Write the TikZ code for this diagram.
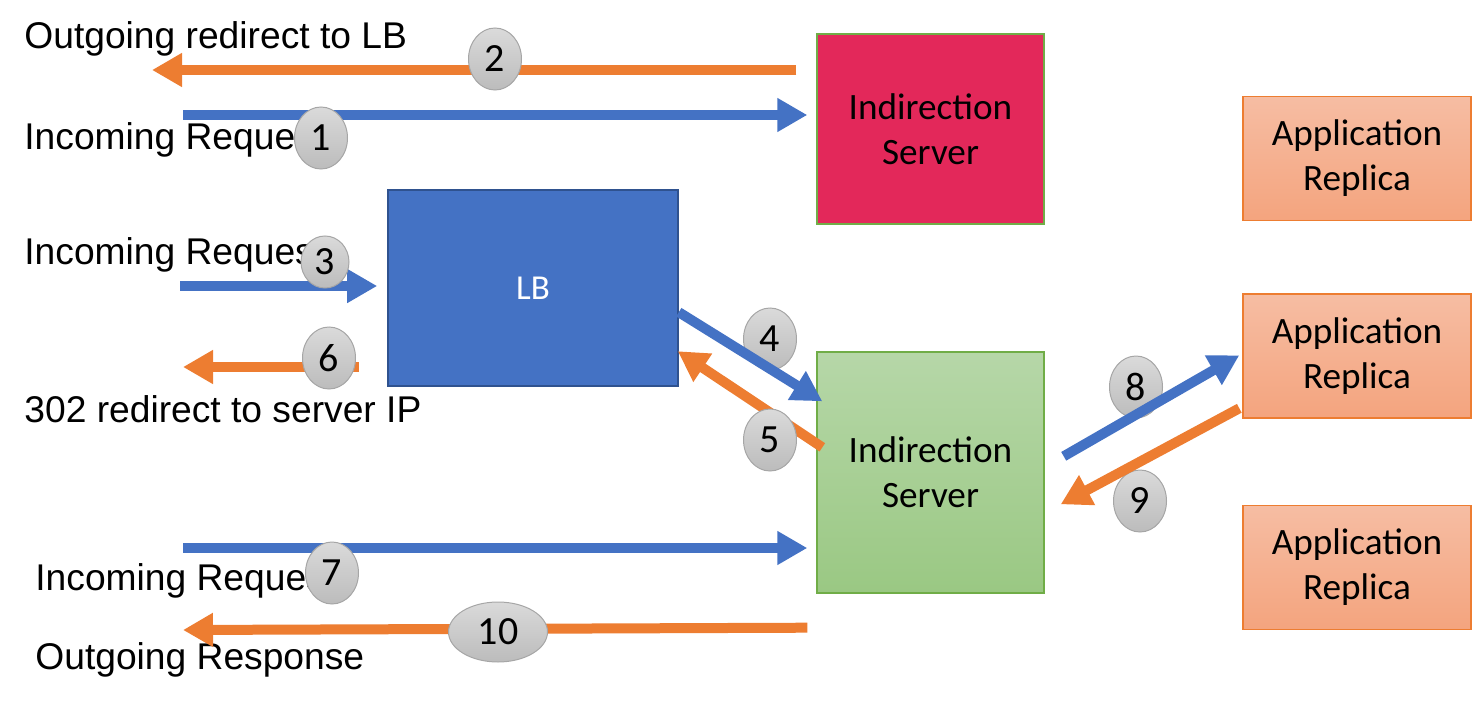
\documentclass[tikz,border=0pt]{standalone}
\usepackage{fontspec}
\setmainfont{Liberation Sans}
\newfontfamily\boxfont{Carlito}
\usetikzlibrary{shapes.geometric,arrows.meta,calc}
\definecolor{flowblue}{HTML}{4472C4}
\definecolor{floworange}{HTML}{ED7D31}
\definecolor{lbedge}{HTML}{2F528F}
\definecolor{crimsonfill}{HTML}{E3285A}
\definecolor{srvgreen}{HTML}{70AD47}
\definecolor{srvtop}{HTML}{B6D7A8}
\definecolor{srvbot}{HTML}{9AC883}
\definecolor{reptop}{HTML}{F6BDA3}
\definecolor{repbot}{HTML}{F4A47E}
\definecolor{badgetop}{HTML}{DADADA}
\definecolor{badgebot}{HTML}{BCBCBC}
\definecolor{badgeedge}{HTML}{A6A6A6}
\tikzset{
lbl/.style={anchor=base west,inner sep=0pt,font=\fontsize{18.6bp}{22.5bp}\selectfont},
srvbox/.style={draw=srvgreen,line width=0.7pt,minimum width=113.5bp,inner sep=0pt,align=center,font=\boxfont\fontsize{18.6bp}{22.5bp}\selectfont},
indA/.style={srvbox,fill=crimsonfill,minimum height=95bp},
indB/.style={srvbox,top color=srvtop,bottom color=srvbot,minimum height=120.5bp},
replica/.style={draw=floworange,line width=0.7pt,top color=reptop,bottom color=repbot,minimum width=114bp,minimum height=62bp,inner sep=0pt,align=center,font=\boxfont\fontsize{18.6bp}{22.5bp}\selectfont},
lbbox/.style={draw=lbedge,line width=0.8pt,fill=flowblue,minimum width=145bp,minimum height=98bp,inner sep=0pt,text=white,font=\boxfont\fontsize{17.5bp}{21bp}\selectfont},
badge/.style={ellipse,draw=badgeedge,line width=0.5pt,top color=badgetop,bottom color=badgebot,minimum width=26.5bp,minimum height=31bp,inner sep=0pt,font=\boxfont\fontsize{20bp}{22bp}\selectfont},
reqarrow/.style={-{Triangle[length=15bp,width=16bp]},line width=5bp,flowblue},
resarrow/.style={-{Triangle[length=15bp,width=16bp]},line width=5bp,floworange}
}
\begin{document}
\begin{tikzpicture}[x=0.5bp,y=-0.5bp]
\useasboundingbox (0,0) rectangle (1473,701);
\node[lbl] (tout1) at (24,49) {Outgoing redirect to LB};
\node[lbl] (tin1) at (24,149) {Incoming Request};
\node[lbl] (tin2) at (24,264) {Incoming Request};
\node[lbl] (tred) at (24,422) {302 redirect to server IP};
\node[lbl] (tin3) at (35,590) {Incoming Request};
\node[lbl] (tout3) at (35,669) {Outgoing Response};
\node[indA] (ind1) at (930.5,129) {Indirection\\Server};
\node[lbbox] (lb) at (533,288) {LB};
\node[indB] (ind2) at (930.5,472.5) {Indirection\\Server};
\node[replica] (rep1) at (1357,158.5) {Application\\Replica};
\node[replica] (rep2) at (1357,356) {Application\\Replica};
\node[replica] (rep3) at (1357,567.5) {Application\\Replica};
\node[badge] (b4) at (770,339) {4};
\node[badge] (b8) at (1136,387) {8};
\node[badge] (b9) at (1140,501) {9};
\coordinate (out1) at (152,70);
\coordinate (in1) at (183,115);
\coordinate (in2) at (180,286);
\coordinate (red2) at (183,367);
\coordinate (in3) at (183,548);
\coordinate (out3) at (183,630);
\draw[resarrow,shorten <=10bp] (out1 -| ind1.west) -- (out1);
\draw[reqarrow,shorten >=4.5bp] (in1) -- (in1 -| ind1.west);
\draw[reqarrow,shorten >=5bp] (in2) -- (in2 -| lb.west);
\draw[resarrow,shorten <=14bp] (red2 -| lb.west) -- (red2);
\draw[reqarrow] ($(lb.north east)+(0,123)$) -- ($(ind2.north west)+(6,50)$);
\draw[resarrow] ($(ind2.north west)+(6,96)$) -- ($(lb.north east)+(-1,162)$);
\draw[reqarrow,shorten >=4.5bp] (in3) -- (in3 -| ind2.west);
\draw[resarrow] ($(ind2.south west)+(-9,34)$) -- (out3);
\draw[reqarrow] ($(ind2.north east)+(19,105)$) -- ($(rep2.north west)+(-3,62)$);
\draw[resarrow] ($(rep2.north west)+(-3,115)$) -- ($(ind2.north east)+(16,153)$);
\node[badge] (b1) at (321,138) {1};
\node[badge] (b2) at (495,59) {2};
\node[badge,minimum width=24bp,minimum height=26bp] (b3) at (325,262) {3};
\node[badge] (b5) at (770,440) {5};
\node[badge] (b6) at (329,358) {6};
\node[badge] (b7) at (332,573) {7};
\node[badge,minimum width=49.5bp,minimum height=30bp] (b10) at (498,632) {10};
\end{tikzpicture}
\end{document}
